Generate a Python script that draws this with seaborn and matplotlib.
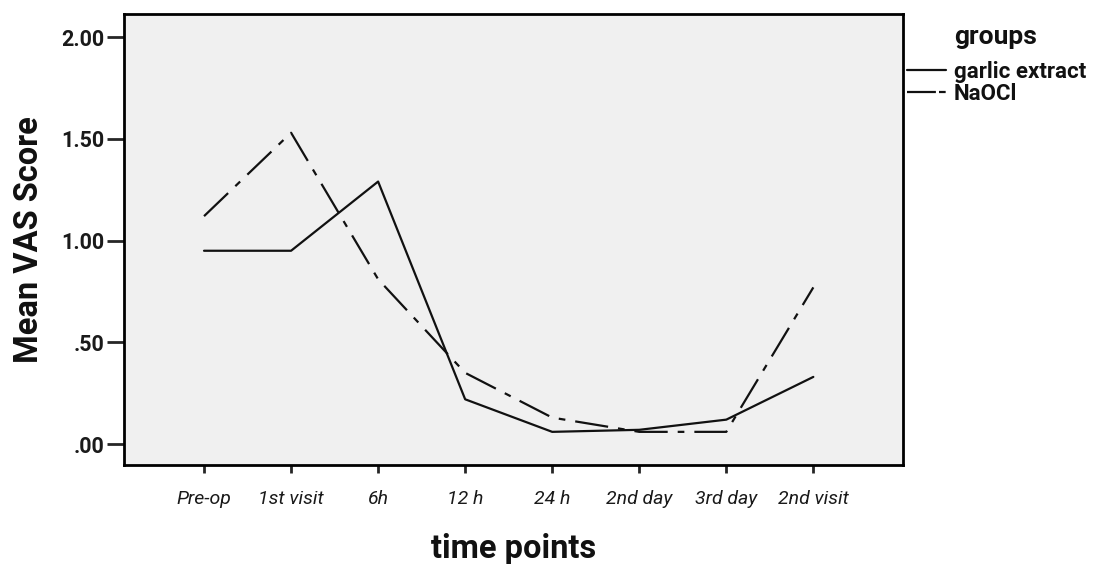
import numpy as np
import pandas as pd
import seaborn as sns
import matplotlib
matplotlib.use('Agg')
import matplotlib.pyplot as plt

# values
time_points = ["Pre-op", "1st visit", "6h", "12 h", "24 h", "2nd day", "3rd day", "2nd visit"]
garlic = [0.95, 0.95, 1.29, 0.22, 0.06, 0.07, 0.12, 0.33]
naocl = [1.12, 1.53, 0.81, 0.35, 0.13, 0.06, 0.06, 0.77]
group_names = ["garlic extract", "NaOCl"]
y_ticks = [0.0, 0.5, 1.0, 1.5, 2.0]
y_ticklabels = [".00", ".50", "1.00", "1.50", "2.00"]

df = pd.DataFrame({
    "time": list(range(len(time_points))) * 2,
    "score": garlic + naocl,
    "groups": [group_names[0]] * len(garlic) + [group_names[1]] * len(naocl),
})

sns.set_style("ticks", {"axes.facecolor": "#f0f0f0", "axes.edgecolor": "black"})
plt.rcParams['font.family'] = ['Roboto', 'DejaVu Sans']

fig = plt.figure(figsize=(10.94, 5.64), dpi=100)
ax = fig.add_axes([0.1133, 0.1755, 0.7121, 0.7995])

sns.lineplot(data=df, x="time", y="score", hue="groups", style="groups",
             palette={group_names[0]: "#111111", group_names[1]: "#111111"},
             dashes={group_names[0]: "", group_names[1]: (15, 4.5, 3, 4.5)},
             linewidth=1.6, ax=ax, legend=True)

ax.set_xlim(-0.92, 8.03)
ax.set_ylim(-0.103, 2.113)
ax.set_xticks(range(len(time_points)))
ax.set_xticklabels(time_points, fontsize=14, style="italic", color="#1a1a1a")
ax.set_yticks(y_ticks)
ax.set_yticklabels(y_ticklabels, fontsize=15.5, fontweight="bold", color="#1a1a1a")
ax.tick_params(axis="y", length=12, width=2, pad=2)
ax.tick_params(axis="x", length=6, width=2, pad=12)
for s in ax.spines.values():
    s.set_linewidth(2)

ax.set_xlabel("time points", fontsize=23.5, fontweight="bold", labelpad=18, color="#111111")
ax.set_ylabel("Mean VAS Score", fontsize=23.5, fontweight="bold", labelpad=12, color="#111111")

leg = ax.legend(loc="upper left", bbox_to_anchor=(0.829, 0.892),
                bbox_transform=fig.transFigure,
                frameon=False, handlelength=1.75, handletextpad=0.36,
                labelspacing=0.0, borderaxespad=0, borderpad=0,
                prop={"weight": "bold", "size": 16})
for t in leg.get_texts():
    t.set_color("#111111")
leg.get_lines()[1].set_dashes((13, 1.4, 3, 5))
fig.text(0.872, 1 - 37 / 564, "groups", ha="left", va="center",
         fontsize=19, fontweight="bold", color="#111111")

fig.savefig("out.png", dpi=100)
